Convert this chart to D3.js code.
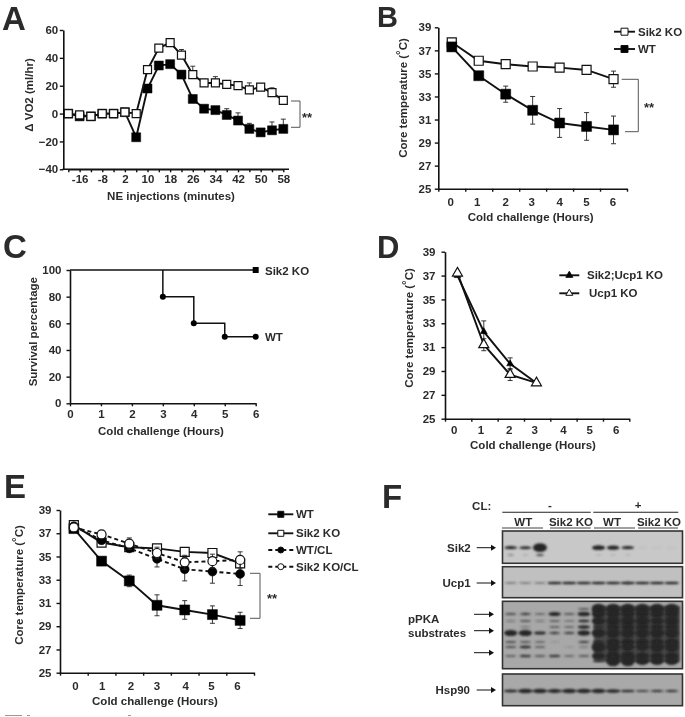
<!DOCTYPE html>
<html><head><meta charset="utf-8">
<script src="https://cdn.jsdelivr.net/npm/d3@7/dist/d3.min.js"></script>
<style>
html,body{margin:0;padding:0;background:#fff;overflow:hidden}
svg{display:block;filter:blur(0.55px)}
text{font-family:"Liberation Sans",Arial,sans-serif;font-weight:700;fill:#2b2b2b}
</style></head><body>
<svg id="c" width="685" height="717"></svg>
<script>
// ---- Panel A
const aMinutes=[-20,-16,-12,-8,-4,2,6,10,14,18,22,26,30,34,38,42,46,50,54,58];
const aKO=[0,-1,-2,0,0,1,0,31.5,47,51,42,28,22,22,21,20,17,19,15,9.5];
const aKOerr=[1,1,1,1,1,1,1,1,1,1,4,6,1,4.5,1,1,5,1,3.5,1];
const aWT=[0,-2,-2,0,0,1,-17,18,34.5,35.5,28,10.5,3.5,2.5,-1,-5,-11,-13.5,-12,-11];
const aWTerr=[1,1,1,1,1,1,1,1,1,1,1,1,1,1,4.5,5.5,4,1,6,7];
const aYTicks=[-40,-20,0,20,40,60];
// ---- Panels B, D, E share these
const hours=[0,1,2,3,4,5,6];
const tempTicks=[25,27,29,31,33,35,37,39];
const bKO=[37.7,36.1,35.8,35.6,35.5,35.3,34.5];
const bKOerr=[0.2,0.2,0.1,0.1,0.1,0.1,0.7];
const bWT=[37.3,34.8,33.2,31.8,30.7,30.4,30.1];
const bWTerr=[0.1,0.2,0.7,1.2,1.25,1.2,1.2];
// ---- Panel C
const cTicksY=[0,20,40,60,80,100];
const cKO=[[0,100],[6,100]];
const cWTsteps=[[3,100],[3,80],[4,80],[4,60],[5,60],[5,50],[6,50]];
const cWTpoints=[[3,80],[4,60],[5,50],[6,50]];
// ---- Panel D
const dHours=[0,1,2,3];
const dDouble=[37.0,32.3,29.6,28.0];
const dDoubleErr=[0.1,0.9,0.5,0.1];
const dUcp=[37.2,31.2,28.7,28.0];
const dUcpErr=[0.1,0.5,0.5,0.1];
// ---- Panel E
const eWT=[37.4,34.6,32.9,30.8,30.4,30.0,29.5];
const eWTerr=[0.1,0.2,0.5,0.9,0.8,0.75,0.7];
const eKO=[37.7,36.2,35.8,35.7,35.4,35.3,34.4];
const eKOerr=[0.1,0.2,0.2,0.2,0.2,0.2,0.3];
const eWTCL=[37.6,36.4,35.7,34.8,33.9,33.7,33.5];
const eWTCLerr=[0.1,0.3,0.3,0.7,1.0,1.0,1.0];
const eKOCL=[37.5,36.9,36.1,35.3,34.5,34.6,34.7];
const eKOCLerr=[0.1,0.2,0.5,0.5,0.6,0.6,0.7];
// ---- Panel F: band intensity per lane (12 lanes)
const lanes=d3.range(12);
const sik2Main=[.6,.55,1,0,0,0,.75,.7,.6,.02,.02,.02];
const sik2Lower=[.1,.05,.4,0,0,0,.04,.04,.04,0,0,0];
const ucp1Band=[.15,.15,.15,.7,.7,.7,.7,.7,.75,.7,.7,.7];
const hsp90Band=[.55,.75,.75,.7,.75,.75,.75,.65,.5,.4,.45,.45];
const pkaRows=[
 [0,0,0,0,0,.3,1,1,1,1,1,1],
 [.35,.4,.2,.65,.3,.7,.9,.9,.9,.9,.9,.9],
 [.1,.3,.1,.25,.15,.5,.9,1,1,1,.9,1],
 [0,.1,0,.25,.2,.6,.5,.8,.8,.8,.8,.8],
 [.8,.8,.55,.4,.4,.75,.95,1,1,1,1,1],
 [.35,.3,.2,.05,0,.4,.5,.9,.9,.9,.9,.9],
 [.35,.5,.25,0,.05,.1,1,1,.9,.9,1,1],
 [.25,.45,.3,.45,.2,.3,.85,1,1,.9,.9,.9],
 [0,0,0,0,0,0,.3,1,1,.9,.9,.9]
];
const pkaMigration=[9,14,21,27,33,42,47,56,61];

const svg=d3.select("#c");
const defs=svg.append("defs");
defs.append("filter").attr("id","bl").attr("x","-30%").attr("y","-60%").attr("width","160%").attr("height","220%")
  .append("feGaussianBlur").attr("stdDeviation",0.9);
const FS=11.5;
const mk={
 square:(s)=>d3.symbol(d3.symbolSquare,s*s)(),
 circle:(s)=>d3.symbol(d3.symbolCircle,Math.PI*s*s/4)(),
 triangle:(s)=>d3.symbol(d3.symbolTriangle,s*s*Math.sqrt(3)/4)()
};
function txt(g,x,y,s,o={}){
  return g.append("text").attr("x",x).attr("y",y).attr("dy","0.36em")
    .attr("text-anchor",o.a||"start").attr("font-size",o.fs||FS)
    .attr("transform",o.rot?`rotate(-90 ${x} ${y})`:null).text(s);
}
function coreTitle(x,y){
  const t=txt(svg,x,y,"Core temperature (",{a:"middle",rot:true});
  t.append("tspan").attr("dy","-0.28em").text("°");
  t.append("tspan").attr("dy","0.28em").text("C)");
}
function styleAxis(g){
  g.selectAll("path.domain").attr("stroke","#111").attr("stroke-width",1.6);
  g.selectAll(".tick line").attr("stroke","#111").attr("stroke-width",1.4);
  g.selectAll(".tick text").attr("font-size",FS).attr("font-family",null);
}
function yAxis(x0,y,ticks,pad){
  const g=svg.append("g").attr("transform",`translate(${x0},0)`)
    .call(d3.axisLeft(y).tickValues(ticks).tickSize(3.5).tickPadding(pad).tickSizeOuter(0));
  styleAxis(g);
}
function bandXAxis(x0,x1,yp,band,pad,nudge){
  const edge=d3.scaleLinear().domain([0,band.domain().length]).range([x0,x1]);
  const g1=svg.append("g").attr("transform",`translate(0,${yp})`)
    .call(d3.axisBottom(edge).ticks(band.domain().length).tickSize(3).tickFormat("").tickSizeOuter(0));
  styleAxis(g1);
  const g2=svg.append("g").attr("transform",`translate(0,${yp})`)
    .call(d3.axisBottom(band).tickSize(0).tickPadding(pad));
  g2.select("path.domain").remove();
  styleAxis(g2);
  g2.selectAll(".tick text").attr("dx",(d,i)=>nudge[i]);
}
function series(xs,vals,errs,x,y,o){
  const g=svg.append("g");
  const line=d3.line().x(d=>x(d[0])).y(d=>y(d[1]));
  g.append("path").attr("d",line(xs.map((v,i)=>[v,vals[i]]))).attr("fill","none")
    .attr("stroke","#111").attr("stroke-width",o.lw||1.9).attr("stroke-dasharray",o.dash||null);
  const cap=o.cap||2.5;
  xs.forEach((v,i)=>{
    const px=x(v),top=y(vals[i]+errs[i]),bot=y(vals[i]-(o.upOnly?0:errs[i]));
    g.append("path").attr("d",`M${px},${top}V${bot}M${px-cap},${top}H${px+cap}`+(o.upOnly?"":`M${px-cap},${bot}H${px+cap}`))
      .attr("fill","none").attr("stroke","#222").attr("stroke-width",0.9);
  });
  xs.forEach((v,i)=>{
    g.append("path").attr("d",mk[o.shape](o.size)).attr("transform",`translate(${x(v)},${y(vals[i])})`)
      .attr("fill",o.fill).attr("stroke",o.fill==="#fff"?"#111":"#000").attr("stroke-width",o.fill==="#fff"?1.2:0.5);
  });
}
function legend(x0,x1,tx,yp,label,o){
  const g=svg.append("g");
  g.append("line").attr("x1",x0).attr("x2",x1).attr("y1",yp).attr("y2",yp)
    .attr("stroke","#111").attr("stroke-width",1.9).attr("stroke-dasharray",o.dash||null);
  g.append("path").attr("d",mk[o.shape](o.size)).attr("transform",`translate(${(x0+x1)/2},${yp})`)
    .attr("fill",o.fill).attr("stroke","#111").attr("stroke-width",1);
  txt(g,tx,yp,label);
}
function bracket(x0,y0,xm,x1,y1,sx,sy){
  svg.append("path").attr("d",`M${x0},${y0}H${xm}V${y1}H${x1}`).attr("fill","none").attr("stroke","#555").attr("stroke-width",1);
  txt(svg,sx,sy+2,"**",{a:"middle",fs:13});
}
// Panel letters
[["A",2,30,33],["B",377,26.5,29],["C",3,258,33],["D",377,258,31],["E",4,498,33],["F",382,508,33]].forEach(d=>{
  svg.append("text").attr("x",d[1]).attr("y",d[2]).attr("font-size",d[3]).text(d[0]);
});

function x2(b){return v=>b(v)+b.bandwidth()/2;}
// ===== A
{
  const x=d3.scalePoint().domain(aMinutes).range([68.3,283.3]);
  const y=d3.scaleLinear().domain([-40,60]).range([169.3,30]);
  yAxis(63.3,y,aYTicks,1.6);
  const g=svg.append("g").attr("transform","translate(0,169.3)")
    .call(d3.axisBottom(x).tickSize(3).tickPadding(3).tickSizeOuter(0)
      .tickFormat((d,i)=>i%2?d:""));
  styleAxis(g);
  svg.append("line").attr("x1",62.5).attr("x2",289).attr("y1",169.3).attr("y2",169.3).attr("stroke","#111").attr("stroke-width",1.6);
  series(aMinutes,aWT,aWTerr,x,y,{shape:"square",size:9,fill:"#000",upOnly:true});
  series(aMinutes,aKO,aKOerr,x,y,{shape:"square",size:8,fill:"#fff",upOnly:true});
  txt(svg,171,196,"NE injections (minutes)",{a:"middle"});
  txt(svg,29,95,"Δ VO2 (ml/hr)",{a:"middle",rot:true});
  bracket(291,101,300,291,127.3,307,115);
}
// ===== B
{
  const x=d3.scaleBand().domain(hours).range([438.3,627]);
  const y=d3.scaleLinear().domain([25,39]).range([188.7,27.3]);
  yAxis(438.3,y,tempTicks,3.5);
  bandXAxis(438.3,627,188.7,x,9,[-1,-1.5,0,-1,0,0,-0.5]);
  series(hours,bKO,bKOerr,x2(x),y,{shape:"square",size:9,fill:"#fff"});
  series(hours,bWT,bWTerr,x2(x),y,{shape:"square",size:10,fill:"#000"});
  txt(svg,530.7,216.7,"Cold challenge (Hours)",{a:"middle"});
  coreTitle(403,98);
  legend(614,635,638,31.7,"Sik2 KO",{shape:"square",size:7,fill:"#fff"});
  legend(614,635,638,49,"WT",{shape:"square",size:7,fill:"#000"});
  bracket(621.7,79.3,638.3,625,131.7,649,105);
}
// ===== C
{
  const x=d3.scaleLinear().domain([0,6]).range([70,255.7]);
  const y=d3.scaleLinear().domain([0,100]).range([403.3,270]);
  yAxis(70,y,cTicksY,5);
  const g=svg.append("g").attr("transform","translate(0,403.3)")
    .call(d3.axisBottom(x).ticks(6).tickSize(3).tickPadding(4).tickSizeOuter(0));
  styleAxis(g);
  const line=d3.line().x(d=>x(d[0])).y(d=>y(d[1]));
  svg.append("path").attr("d",line(cKO)).attr("fill","none").attr("stroke","#111").attr("stroke-width",1.3);
  svg.append("path").attr("d",line(cWTsteps)).attr("fill","none").attr("stroke","#111").attr("stroke-width",1.5);
  svg.append("path").attr("d",mk.square(6)).attr("transform",`translate(${x(6)},${y(100)})`).attr("fill","#000");
  cWTpoints.forEach(d=>svg.append("circle").attr("cx",x(d[0])).attr("cy",y(d[1])).attr("r",3).attr("fill","#000"));
  txt(svg,161,431,"Cold challenge (Hours)",{a:"middle"});
  txt(svg,33,331.7,"Survival percentage",{a:"middle",rot:true});
  txt(svg,265,270.7,"Sik2 KO");
  txt(svg,265,336.7,"WT");
}
// ===== D
{
  const x=d3.scaleBand().domain(hours).range([445,629.3]);
  const y=d3.scaleLinear().domain([25,39]).range([418.7,251.7]);
  yAxis(445,y,tempTicks,6);
  bandXAxis(445,629.3,418.7,x,7,[-4,-3.5,-1.5,-2.5,0,0,0]);
  series(dHours,dDouble,dDoubleErr,v=>x2(x)(v)-0.7,y,{shape:"triangle",size:7,fill:"#000"});
  series(dHours,dUcp,dUcpErr,v=>x2(x)(v)-0.7,y,{shape:"triangle",size:10,fill:"#fff"});
  txt(svg,533,445,"Cold challenge (Hours)",{a:"middle"});
  coreTitle(409,328);
  legend(559.3,579.3,587,275.3,"Sik2;Ucp1 KO",{shape:"triangle",size:7,fill:"#000"});
  legend(559.3,579.3,589,293.3,"Ucp1 KO",{shape:"triangle",size:7,fill:"#fff"});
}
// ===== E
{
  const x=d3.scaleBand().domain(hours).range([60,254]);
  const y=d3.scaleLinear().domain([25,39]).range([672.7,510]);
  yAxis(60,y,tempTicks,5);
  bandXAxis(60,254,672.7,x,9,[1.7,0.7,1.7,0,1,-1,-2.7]);
  series(hours,eWT,eWTerr,x2(x),y,{shape:"square",size:10,fill:"#000"});
  series(hours,eKO,eKOerr,x2(x),y,{shape:"square",size:9,fill:"#fff"});
  series(hours,eWTCL,eWTCLerr,x2(x),y,{shape:"circle",size:9,fill:"#000",dash:"4 3"});
  series(hours,eKOCL,eKOCLerr,x2(x),y,{shape:"circle",size:9,fill:"#fff",dash:"4 3"});
  txt(svg,155,700.7,"Cold challenge (Hours)",{a:"middle"});
  coreTitle(19,585);
  legend(268.3,293.3,296,514.3,"WT",{shape:"square",size:6,fill:"#000"});
  legend(268.3,293.3,296,533.3,"Sik2 KO",{shape:"square",size:6,fill:"#fff"});
  legend(268.3,293.3,296,550,"WT/CL",{shape:"circle",size:6,fill:"#000",dash:"4 3"});
  legend(268.3,293.3,296,566.7,"Sik2 KO/CL",{shape:"circle",size:6,fill:"#fff",dash:"4 3"});
  bracket(250,573.3,260,250,618.3,272,596.7);
}
// ===== F
{
  const laneX=d3.scalePoint().domain(lanes).range([510.7,671.7]);
  function gel(y0,y1,bg){
    svg.append("rect").attr("x",502.5).attr("y",y0).attr("width",180).attr("height",y1-y0)
      .attr("fill",bg).attr("stroke","#333").attr("stroke-width",1.6);
  }
  function bands(vals,yp,ryMax,rxBase){
    const g=svg.append("g").attr("filter","url(#bl)");
    vals.forEach((v,i)=>{
      if(v<=0)return;
      g.append("ellipse").attr("cx",laneX(i)).attr("cy",yp).attr("rx",rxBase+v*2)
        .attr("ry",0.9+Math.pow(v,3)*ryMax).attr("fill","#262626")
        .attr("opacity",v<0.1?v*2.5:Math.min(1,0.2+v*1.5));
    });
  }
  gel(531,563.3,"#c8c8c8");
  bands(sik2Main,547.7,3.5,5);
  bands(sik2Lower,555,1.5,3);
  gel(566.7,597.7,"#c0c0c0");
  bands(ucp1Band,583,1.2,6);
  gel(601.3,668.7,"#a8a8a8");
  svg.append("rect").attr("x",594).attr("y",606).attr("width",86).attr("height",56).attr("fill","#4a4a4a").attr("filter","url(#bl)");
  const rowY=d3.scaleLinear().domain([0,70]).range([600,670]);
  pkaRows.forEach((r,i)=>bands(r,rowY(pkaMigration[i]),4.3,5));
  gel(674,705.7,"#a9a9a9");
  bands(hsp90Band,691,3,6);

  const arrow=(x0,x1,yp)=>{
    svg.append("line").attr("x1",x0).attr("x2",x1-3).attr("y1",yp).attr("y2",yp).attr("stroke","#111").attr("stroke-width",1);
    svg.append("path").attr("d",`M${x1},${yp}l-5,-3v6z`).attr("fill","#111");
  };
  [[476.7,496,547.7],[476.7,496,583],[474,494,614.3],[474,494,630.7],[474,494,652.7],[476.7,496,690]].forEach(a=>arrow(...a));
  txt(svg,470.7,547.7,"Sik2",{a:"end"});
  txt(svg,470.7,583,"Ucp1",{a:"end"});
  txt(svg,408,619,"pPKA");
  txt(svg,408,633,"substrates");
  txt(svg,470,690,"Hsp90",{a:"end"});
  txt(svg,481.7,506,"CL:",{a:"middle"});
  txt(svg,550,505,"-",{a:"middle"});
  txt(svg,638,505,"+",{a:"middle"});
  const hl=(x0,x1,yp,c,w)=>svg.append("line").attr("x1",x0).attr("x2",x1).attr("y1",yp).attr("y2",yp).attr("stroke",c).attr("stroke-width",w);
  hl(502.3,590.7,512.3,"#222",1.1); hl(593.3,678.3,512.3,"#222",1.1);
  [[502,543,523.3,"WT"],[550,590.7,571,"Sik2 KO"],[594,635,612,"WT"],[638,678,659,"Sik2 KO"]].forEach(d=>{
    hl(d[0],d[1],528,"#444",1.2);
    txt(svg,d[2],521.7,d[3],{a:"middle"});
  });
}
// cropped fragments of the next figure element along the bottom edge
[[5,22],[27,30],[128,131]].forEach(d=>svg.append("line").attr("x1",d[0]).attr("x2",d[1]).attr("y1",715.5).attr("y2",715.5).attr("stroke","#999").attr("stroke-width",1));
</script></body></html>
